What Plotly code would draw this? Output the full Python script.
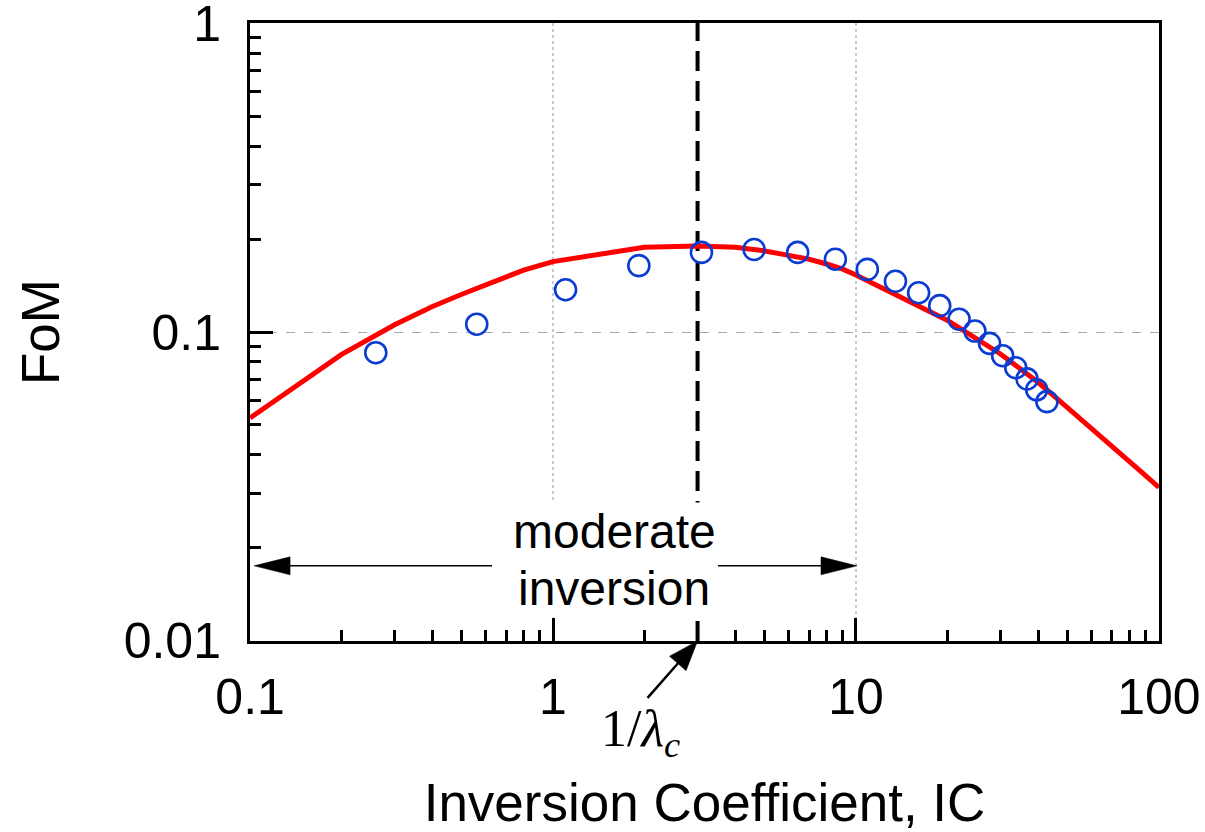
import math
import plotly.graph_objects as go

# ---------------- data ----------------
ic_meas = [0.26, 0.56, 1.10, 1.92, 3.09, 4.61, 6.42, 8.55, 10.9, 13.5,
           16.1, 18.9, 21.9, 24.7, 27.6, 30.5, 33.7, 36.7, 39.5, 42.7]
fom_meas = [0.0857, 0.106, 0.137, 0.164, 0.181, 0.185, 0.181, 0.172, 0.1595, 0.146,
            0.134, 0.1217, 0.110, 0.1007, 0.0919, 0.0838, 0.0766, 0.0705, 0.065, 0.0595]

ic_model = [0.1, 0.2, 0.3, 0.4, 0.5, 0.6, 0.7, 0.8, 0.9, 1,
            2, 3, 4, 5, 6, 7, 8, 9, 10,
            20, 30, 40, 50, 60, 70, 80, 90, 100]
fom_model = [0.0527, 0.0845, 0.1055, 0.121, 0.1325, 0.1425, 0.1515, 0.1585, 0.164, 0.169,
             0.188, 0.190, 0.188, 0.183, 0.177, 0.172, 0.166, 0.160, 0.153,
             0.1092, 0.0849, 0.0686, 0.0568, 0.0488, 0.0428, 0.0381, 0.0344, 0.0314]

ic_corner = 3.0                 # 1/lambda_c
moderate_range = [0.1, 10]      # moderate inversion region
x_tickvals = [0.1, 1, 10, 100]
x_ticktext = ["0.1", "1", "10", "100"]
y_tickvals = [0.01, 0.1, 1]
y_ticktext = ["0.01", "0.1", "1"]
x_minor = [m * d for d in (0.1, 1, 10) for m in range(2, 10)]
y_minor = [m * d for d in (0.01, 0.1) for m in range(2, 10)]

# ---------------- layout geometry ----------------
W, H = 1205, 832
ML, MR, MT, MB = 250, 46, 23, 191
PW, PH = W - ML - MR, H - MT - MB
XR = [-1.0003, 2.0003]
YR = [-2.0003, 0.0003]

SANS = "Arial, Liberation Sans, sans-serif"
SERIF = "Times New Roman, Liberation Serif, serif"


def data_to_px(ic, fom):
    """Return pixel offsets relative to plot-area bottom-left, y up."""
    px = (math.log10(ic) - XR[0]) / (XR[1] - XR[0]) * PW
    py = (math.log10(fom) - YR[0]) / (YR[1] - YR[0]) * PH
    return px, py


def px_to_paper(px, py):
    return px / PW, py / PH


def arrow(tail_px, tip_px, head_len, head_hw, width=1.5):
    tx, ty = tail_px
    hx, hy = tip_px
    dx, dy = hx - tx, hy - ty
    L = math.hypot(dx, dy)
    ux, uy = dx / L, dy / L
    nx, ny = -uy, ux
    bx, by = hx - ux * head_len, hy - uy * head_len
    p1 = px_to_paper(bx + nx * head_hw, by + ny * head_hw)
    p2 = px_to_paper(bx - nx * head_hw, by - ny * head_hw)
    pt = px_to_paper(hx, hy)
    a = px_to_paper(tx, ty)
    b = px_to_paper(bx + ux * 2, by + uy * 2)
    shaft = dict(type="line", xref="paper", yref="paper", x0=a[0], y0=a[1], x1=b[0], y1=b[1],
                 line=dict(color="black", width=width), layer="above")
    head = dict(type="path", xref="paper", yref="paper",
                path=f"M{pt[0]},{pt[1]} L{p1[0]},{p1[1]} L{p2[0]},{p2[1]} Z",
                fillcolor="black", line=dict(color="black", width=0.5), layer="above")
    return [shaft, head]


fig = go.Figure()

fig.add_trace(go.Scatter(
    x=[ic_corner, ic_corner], y=[y_tickvals[0], y_tickvals[-1]], mode="lines",
    line=dict(color="black", width=4, dash="20px,10px"), showlegend=False, hoverinfo="skip"))

fig.add_trace(go.Scatter(
    x=ic_model, y=fom_model, mode="lines",
    line=dict(color="#ff0000", width=5), showlegend=False))

fig.add_trace(go.Scatter(
    x=ic_meas, y=fom_meas, mode="markers",
    marker=dict(symbol="circle-open", size=21, color="#0a3cd2", line=dict(width=2.6, color="#0a3cd2")),
    showlegend=False))

# arrows for moderate inversion
arrow_fom = 0.0175
lx_tip, ly = data_to_px(moderate_range[0], arrow_fom)
rx_tip, _ = data_to_px(moderate_range[1], arrow_fom)
shapes = []
shapes += arrow((492 - ML, ly), (lx_tip + 4, ly), 36, 9)
shapes += arrow((718 - ML, ly), (rx_tip + 1, ly), 36, 9)
# arrow for 1/lambda_c
cx, cy = data_to_px(ic_corner, y_tickvals[0])
shapes += arrow((cx - 50, cy - 57), (cx, cy), 30, 11, width=2.5)

annotations = [
    dict(text="moderate", xref="paper", yref="paper", x=(614 - ML) / PW, y=(641 - 531) / PH,
         showarrow=False, xanchor="center", yanchor="middle", bgcolor="white", borderpad=2,
         font=dict(family=SANS, size=48, color="black")),
    dict(text="inversion", xref="paper", yref="paper", x=(614 - ML) / PW, y=(641 - 588) / PH,
         showarrow=False, xanchor="center", yanchor="middle", bgcolor="white", borderpad=2,
         font=dict(family=SANS, size=48, color="black")),
    dict(text="1/<i>λ</i><sub><i>c</i></sub>", xref="paper", yref="paper",
         x=(640 - ML) / PW, y=(641 - 732) / PH,
         showarrow=False, xanchor="center", yanchor="middle",
         font=dict(family=SERIF, size=52, color="black")),
]

axis_common = dict(
    type="log", showline=True, linecolor="black", linewidth=3, mirror=True,
    ticks="inside", ticklen=23, tickwidth=2.5, tickcolor="black",
    tickfont=dict(family=SANS, size=50, color="black"),
    zeroline=False, automargin=False, ticklabeloverflow="allow",
)

fig.update_layout(
    width=W, height=H,
    margin=dict(l=ML, r=MR, t=MT, b=MB, pad=0),
    paper_bgcolor="white", plot_bgcolor="white",
    showlegend=False,
    xaxis=dict(**axis_common, range=XR, tickvals=x_tickvals, ticktext=x_ticktext,
               ticklabelstandoff=10,
               showgrid=True, gridcolor="#c8c8c8", griddash="dot", gridwidth=1.5,
               minor=dict(tickvals=x_minor, ticks="inside", ticklen=11, tickwidth=2.5,
                          tickcolor="black", showgrid=False),
               title=dict(text="Inversion Coefficient, IC", standoff=68,
                          font=dict(family=SANS, size=53, color="black"))),
    yaxis=dict(**axis_common, range=YR, tickvals=y_tickvals, ticktext=y_ticktext,
               ticklabelstandoff=16,
               showgrid=True, gridcolor="#aaaaaa", griddash="dash", gridwidth=1,
               minor=dict(tickvals=y_minor, ticks="inside", ticklen=11, tickwidth=2.5,
                          tickcolor="black", showgrid=False),
               title=dict(text="FoM", standoff=48,
                          font=dict(family=SANS, size=53, color="black"))),
    shapes=shapes,
    annotations=annotations,
)

fig.write_html("out.html")
